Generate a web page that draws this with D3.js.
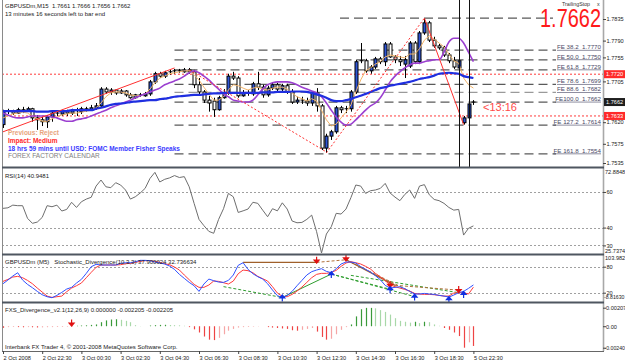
<!DOCTYPE html>
<html>
<head>
<meta charset="utf-8">
<script src="https://cdnjs.cloudflare.com/ajax/libs/d3/7.8.5/d3.min.js"></script>
<style>
body { margin: 0; background: #fff; }
text { font-family: "Liberation Sans", Arial, sans-serif; }
</style>
</head>
<body>
<div id="chart"></div>
<script>
// ---- data ----

// GBPUSDm M15 candles, one per bar (bar 0 = 2 Oct 20:30)
var opens = [
  1.7615,1.7642,1.7644,1.7639,1.7646,1.7644,1.7648,1.7629,1.7625,1.7621,
  1.7631,1.7639,1.7637,1.7642,1.7639,1.7644,1.7642,1.7648,1.7646,1.7650,
  1.7654,1.7689,1.7683,1.7687,1.7681,1.7685,1.7677,1.7671,1.7677,1.7675,
  1.7679,1.7704,1.7721,1.7716,1.7723,1.7725,1.7727,1.7725,1.7729,1.7725,
  1.7698,1.7683,1.7666,1.7664,1.7646,1.7671,1.7681,1.7716,1.7712,1.7675,
  1.7681,1.7679,1.7700,1.7693,1.7677,1.7691,1.7698,1.7689,1.7696,1.7683,
  1.7662,1.7666,1.7664,1.7660,1.7681,1.7654,1.7566,1.7591,1.7600,1.7650,
  1.7646,1.7648,1.7683,1.7746,1.7748,1.7727,1.7735,1.7752,1.7746,1.7783,
  1.7756,1.7750,1.7741,1.7737,1.7785,1.7746,1.7806,1.7827,1.7791,1.7779,
  1.7775,1.7760,1.7748,1.7733,1.7619,1.7629,1.7661];
var highs = [
  1.7646,1.7648,1.7646,1.7650,1.7652,1.7652,1.7650,1.7635,1.7631,1.7635,
  1.7644,1.7644,1.7646,1.7646,1.7648,1.7650,1.7652,1.7652,1.7656,1.7660,
  1.7693,1.7693,1.7691,1.7689,1.7689,1.7687,1.7681,1.7679,1.7681,1.7683,
  1.7708,1.7725,1.7725,1.7727,1.7729,1.7731,1.7731,1.7733,1.7733,1.7729,
  1.7712,1.7687,1.7675,1.7671,1.7675,1.7689,1.7721,1.7725,1.7716,1.7687,
  1.7687,1.7704,1.7725,1.7698,1.7696,1.7702,1.7702,1.7700,1.7700,1.7689,
  1.7673,1.7673,1.7671,1.7683,1.7691,1.7658,1.7596,1.7604,1.7654,1.7654,
  1.7654,1.7687,1.7750,1.7785,1.7752,1.7739,1.7756,1.7756,1.7787,1.7787,
  1.7760,1.7758,1.7758,1.7789,1.7789,1.7810,1.7837,1.7831,1.7798,1.7783,
  1.7779,1.7764,1.7756,1.7752,1.7633,1.7662,1.7666];
var lows = [
  1.7608,1.7637,1.7635,1.7637,1.7639,1.7642,1.7621,1.7604,1.7612,1.7608,
  1.7621,1.7633,1.7633,1.7633,1.7635,1.7633,1.7637,1.7642,1.7644,1.7646,
  1.7652,1.7679,1.7677,1.7677,1.7679,1.7673,1.7669,1.7669,1.7673,1.7673,
  1.7675,1.7700,1.7712,1.7712,1.7719,1.7721,1.7723,1.7723,1.7721,1.7691,
  1.7675,1.7660,1.7642,1.7631,1.7644,1.7669,1.7677,1.7708,1.7671,1.7673,
  1.7675,1.7675,1.7687,1.7671,1.7673,1.7687,1.7683,1.7685,1.7679,1.7658,
  1.7658,1.7658,1.7654,1.7654,1.7642,1.7562,1.7556,1.7583,1.7596,1.7639,
  1.7639,1.7642,1.7679,1.7743,1.7723,1.7721,1.7731,1.7741,1.7737,1.7754,
  1.7743,1.7737,1.7712,1.7733,1.7741,1.7741,1.7802,1.7787,1.7775,1.7771,
  1.7756,1.7743,1.7731,1.7729,1.7615,1.7625,1.7656];
var closes = [
  1.7642,1.7644,1.7639,1.7646,1.7644,1.7648,1.7629,1.7625,1.7621,1.7631,
  1.7639,1.7637,1.7642,1.7639,1.7644,1.7642,1.7648,1.7646,1.7650,1.7654,
  1.7689,1.7683,1.7687,1.7681,1.7685,1.7677,1.7671,1.7677,1.7675,1.7679,
  1.7704,1.7721,1.7716,1.7723,1.7725,1.7727,1.7725,1.7729,1.7725,1.7698,
  1.7683,1.7666,1.7660,1.7646,1.7671,1.7681,1.7716,1.7712,1.7675,1.7681,
  1.7679,1.7700,1.7693,1.7677,1.7691,1.7698,1.7689,1.7696,1.7683,1.7662,
  1.7666,1.7664,1.7660,1.7681,1.7654,1.7566,1.7591,1.7600,1.7650,1.7646,
  1.7648,1.7683,1.7746,1.7748,1.7727,1.7735,1.7752,1.7746,1.7783,1.7756,
  1.7750,1.7746,1.7750,1.7785,1.7746,1.7806,1.7827,1.7791,1.7779,1.7775,
  1.7760,1.7748,1.7735,1.7748,1.7629,1.7658,1.7662];

// moving averages on the price chart
var maSlow = [
  1.7643,1.7643,1.7643,1.7643,1.7643,1.7643,1.7643,1.7642,1.7642,1.7642,
  1.7643,1.7643,1.7643,1.7643,1.7645,1.7645,1.7645,1.7645,1.7645,1.7648,
  1.7650,1.7653,1.7656,1.7658,1.7659,1.7660,1.7662,1.7663,1.7664,1.7665,
  1.7666,1.7666,1.7668,1.7669,1.7671,1.7673,1.7674,1.7675,1.7676,1.7677,
  1.7677,1.7678,1.7679,1.7680,1.7680,1.7681,1.7681,1.7681,1.7681,1.7681,
  1.7681,1.7681,1.7681,1.7682,1.7682,1.7682,1.7683,1.7683,1.7683,1.7684,
  1.7684,1.7684,1.7683,1.7681,1.7678,1.7675,1.7671,1.7666,1.7664,1.7664,
  1.7666,1.7668,1.7672,1.7675,1.7679,1.7683,1.7687,1.7691,1.7693,1.7696,
  1.7698,1.7700,1.7702,1.7704,1.7707,1.7710,1.7712,1.7714,1.7717,1.7721,
  1.7722,1.7723,1.7722,1.7721,1.7716,1.7714,1.7712];
var maMid = [
  1.7639,1.7635,1.7631,1.7629,1.7629,1.7631,1.7633,1.7633,1.7633,1.7633,
  1.7631,1.7629,1.7625,1.7622,1.7622,1.7625,1.7627,1.7629,1.7633,1.7637,
  1.7641,1.7645,1.7650,1.7654,1.7658,1.7662,1.7666,1.7671,1.7675,1.7679,
  1.7683,1.7687,1.7691,1.7698,1.7702,1.7706,1.7710,1.7716,1.7723,1.7727,
  1.7723,1.7716,1.7708,1.7698,1.7689,1.7679,1.7673,1.7666,1.7664,1.7662,
  1.7662,1.7666,1.7677,1.7689,1.7698,1.7702,1.7704,1.7704,1.7704,1.7702,
  1.7698,1.7693,1.7689,1.7685,1.7681,1.7673,1.7660,1.7645,1.7631,1.7620,
  1.7614,1.7616,1.7625,1.7635,1.7645,1.7654,1.7660,1.7671,1.7687,1.7704,
  1.7716,1.7725,1.7733,1.7739,1.7743,1.7743,1.7746,1.7748,1.7750,1.7750,
  1.7766,1.7787,1.7795,1.7795,1.7785,1.7766,1.7746];
var maFast = [
  1.7629,1.7633,1.7637,1.7639,1.7641,1.7639,1.7633,1.7627,1.7622,1.7622,
  1.7627,1.7631,1.7635,1.7637,1.7639,1.7639,1.7641,1.7643,1.7645,1.7650,
  1.7660,1.7673,1.7681,1.7683,1.7683,1.7681,1.7677,1.7675,1.7675,1.7679,
  1.7689,1.7702,1.7712,1.7716,1.7721,1.7723,1.7725,1.7727,1.7727,1.7719,
  1.7708,1.7693,1.7679,1.7666,1.7666,1.7673,1.7687,1.7698,1.7696,1.7691,
  1.7687,1.7691,1.7693,1.7689,1.7687,1.7691,1.7693,1.7693,1.7689,1.7681,
  1.7673,1.7669,1.7664,1.7669,1.7664,1.7645,1.7625,1.7612,1.7616,1.7629,
  1.7641,1.7656,1.7683,1.7708,1.7727,1.7733,1.7741,1.7746,1.7756,1.7760,
  1.7758,1.7756,1.7754,1.7762,1.7762,1.7773,1.7791,1.7800,1.7793,1.7785,
  1.7777,1.7762,1.7748,1.7743,1.7712,1.7698,1.7691];

// Fibonacci expansion levels
var feNames = ["FE 38.2", "FE 50.0", "FE 61.8", "FE 78.6", "FE 88.6", "FE100.0", "FE 127.2", "FE 161.8"];
var feValues = [1.7770, 1.7750, 1.7729, 1.7699, 1.7682, 1.7662, 1.7614, 1.7554];
var feTop = 1.7837;

// red lines: [bar1, price1, bar2, price2]
var trendSolid = [[0, 1.7600, 35, 1.7733], [86, 1.7837, 94, 1.7615]];
var trendDotted = [[38, 1.7729, 66, 1.7558], [66, 1.7556, 86, 1.7837]];
var alertLevels = [1.7720, 1.7633];
var boxPrices = [1.7720, 1.7662, 1.7633];
var sessionBars = [93, 95];

// axis ticks
var priceTicks = [1.7835, 1.7790, 1.7755, 1.7705, 1.7620, 1.7575, 1.7535];
var tickBars = [0, 8, 16, 24, 32, 40, 48, 56, 64, 72, 80, 88, 96];
var tickLabels = ["2 Oct 2008", "2 Oct 22:30", "3 Oct 00:30", "3 Oct 02:30", "3 Oct 04:30", "3 Oct 06:30",
  "3 Oct 08:30", "3 Oct 10:30", "3 Oct 12:30", "3 Oct 14:30", "3 Oct 16:30", "3 Oct 18:30", "5 Oct 22:30"];

// RSI(14)
var rsiValues = [
  50.8,51.1,52.6,52.3,52.3,45.2,42.4,43.1,45.7,52.3,
  51.7,52.6,49.3,50.2,54.2,51.3,54.5,56.0,57.0,63.3,
  66.7,62.9,62.4,65.2,63.9,61.1,56.0,57.3,59.4,62.0,
  67.6,71.0,65.6,67.1,67.9,69.2,68.1,68.6,62.9,53.6,
  44.6,41.1,37.9,36.8,44.6,50.6,59.2,57.3,48.5,49.4,
  50.4,54.2,53.6,49.8,46.1,50.6,49.4,53.9,50.4,43.7,
  42.7,42.9,44.6,47.0,37.7,25.74,36.4,40.5,48.0,47.6,
  50.4,56.8,63.9,63.3,59.2,60.7,61.1,62.0,64.8,59.4,
  57.1,55.1,58.6,61.1,56.4,63.3,64.1,58.4,55.8,55.1,
  53.6,51.3,49.8,50.2,35.8,39.6,40.9481];
var rsiLevels = [60, 40, 30];

// Stochastic divergence
var stochMain = [
  40.7,49.2,58.4,66.1,49.2,39.2,31.5,23.0,15.3,10.7,
  8.4,13.8,20.7,28.4,32.3,42.3,50.8,64.6,80.0,85.4,
  83.9,83.9,83.9,83.9,87.7,89.2,89.2,91.6,94.6,94.6,
  93.9,90.8,88.5,86.2,81.5,73.8,62.3,53.0,43.8,36.1,
  23.0,40.0,51.5,47.7,44.6,43.8,48.4,60.8,83.1,89.2,
  73.8,63.8,56.9,51.5,40.7,26.1,13.0,9.2,13.8,23.0,
  36.1,48.4,60.8,68.5,72.3,75.4,69.2,66.1,75.4,86.2,
  90.8,90.8,88.5,80.0,73.8,67.7,59.2,50.0,36.9,30.7,
  32.3,33.8,29.2,23.0,16.9,16.9,18.4,16.9,16.1,13.8,
  12.2,9.9,14.6,20.0,23.0,30.0,37.9];
var stochSignal = [
  46.1,50.7,56.1,57.7,54.6,48.4,40.7,30.7,21.5,12.2,
  9.2,10.7,12.2,22.3,30.7,36.1,42.3,54.6,66.9,78.5,
  83.9,83.9,83.9,83.9,84.6,86.9,87.7,90.0,92.3,93.9,
  93.9,92.3,90.0,86.9,84.6,79.2,72.3,60.8,50.0,39.2,
  32.3,32.3,37.7,46.9,46.1,43.0,40.0,46.9,63.8,72.3,
  70.8,66.1,57.7,52.3,46.9,33.8,19.2,11.5,10.7,16.1,
  23.8,33.0,43.8,54.6,62.3,64.6,64.6,66.9,71.5,80.8,
  88.5,91.6,89.2,86.2,80.8,74.6,64.6,56.9,47.7,38.4,
  33.8,30.7,27.6,23.8,18.4,16.9,16.1,16.1,15.3,13.8,
  12.2,12.2,19.2,20.0,20.0,16.9,32.7];
var stochLevels = [80, 20];
var stochDownArrows = [[64, 94], [70, 99], [79, 38], [93, 26]];
var stochUpArrows = [[57, 9], [67, 63], [79, 28], [84, 11], [91, 5], [94, 17]];
var divSolidGreen = [[57, 9, 67, 63]];
var divDashedGreen = [[45, 34, 57, 9], [67, 63, 84, 11], [67, 63, 79, 28], [71, 60, 93, 20]];
var divSolidBrown = [[49, 90, 64, 90], [70, 96, 80, 37]];
var divDashedBrown = [[64, 90, 70, 96], [80, 37, 93, 26], [70, 96, 84, 18]];

// FXS_Divergence histogram
var fxsHist = [
  -0.00018,-0.0001,-0.00008,-0.0001,-0.00012,-0.0001,-0.00012,-0.00014,-0.00013,-0.00011,
  -0.0001,-0.00009,-0.00008,-0.00006,-0.00004,0.00005,0.00008,0.0001,0.00015,0.0002,
  0.00045,0.00065,0.00075,0.00078,0.00072,0.0006,0.00045,0.00012,0.00002,0,
  0.00008,0.00012,0.00015,0.00016,0.00014,0.00012,0.0001,0.00005,-0.0001,-0.00035,
  -0.0007,-0.00115,-0.0015,-0.00155,-0.0013,-0.0009,-0.0005,-0.0003,-0.00015,-0.0001,
  -0.00008,-0.00005,-0.00003,0,-0.0001,-0.00015,-0.0002,-0.00025,-0.0003,-0.00045,
  -0.0005,-0.0004,-0.0003,-0.0002,-0.0006,-0.0012,-0.0015,-0.0014,-0.0009,-0.0004,
  -0.0001,0.0002,0.0011,0.0019,0.00205,0.00205,0.002,0.0018,0.0016,0.0013,
  0.0009,0.0006,0.0005,0.0004,0.0005,0.00035,0.0005,0.00045,0.0002,0.00005,
  -0.0002,-0.0004,-0.0007,-0.0011,-0.0024,-0.0018,-0.002205];
var fxsArrow = [14, 0.0003];

// ---- drawing ----

var width = 625;
var height = 363;
var left = 2;
var right = 603;
var axisFont = 5.6;

var svg = d3.select("#chart")
    .append("svg")
    .attr("width", width)
    .attr("height", height);

// panels: [top, bottom]
var mainP = [0, 167];
var rsiP = [168, 254];
var stochP = [255, 302];
var fxsP = [303, 351];

var x = d3.scaleLinear().domain([0, 96]).range([3, 473.4]);
var yMain = d3.scaleLinear().domain([1.7835, 1.7535]).range([19, 163]);
var yRsi = d3.scaleLinear().domain([72.8848, 25.7374]).range([169, 253]);
var yStoch = d3.scaleLinear().domain([80, 20]).range([266.7, 292.7]);
var yFxs = d3.scaleLinear().domain([0.00207, -0.0024]).range([307.7, 347.7]);

var defs = svg.append("defs");
function clip(id, p) {
    defs.append("clipPath").attr("id", id)
        .append("rect").attr("x", left).attr("y", p[0]).attr("width", right - left).attr("height", p[1] - p[0]);
}
clip("cMain", mainP);
clip("cRsi", rsiP);
clip("cStoch", stochP);
clip("cFxs", fxsP);

function label(g, tx, ty, str, size, color, weight) {
    return g.append("text").attr("x", tx).attr("y", ty)
        .attr("font-size", size).attr("fill", color || "#222")
        .attr("font-weight", weight || "normal").text(str);
}

// ---------- main price panel ----------
var main = svg.append("g").attr("clip-path", "url(#cMain)");

// fibonacci dashed levels
main.append("line")
    .attr("x1", 340).attr("x2", 553)
    .attr("y1", yMain(feTop)).attr("y2", yMain(feTop))
    .attr("stroke", "#5a5a5a").attr("stroke-width", 1.3).attr("stroke-dasharray", "9,5");
feValues.forEach(function(v, i) {
    main.append("line")
        .attr("x1", x(35)).attr("x2", 556)
        .attr("y1", yMain(v)).attr("y2", yMain(v))
        .attr("stroke", i == 4 ? "#9a9a9a" : "#5a5a5a")
        .attr("stroke-width", 1.3).attr("stroke-dasharray", "9,5");
    main.append("text")
        .attr("x", 601).attr("y", yMain(v) - 1.3)
        .attr("text-anchor", "end").attr("font-size", 6.2)
        .attr("fill", "#4a4a66").attr("text-decoration", "underline")
        .text(feNames[i] + "\u00a0\u00a0" + v.toFixed(4));
});

// red dotted alert levels
alertLevels.forEach(function(v) {
    main.append("line")
        .attr("x1", left).attr("x2", right)
        .attr("y1", yMain(v)).attr("y2", yMain(v))
        .attr("stroke", "#ff3a3a").attr("stroke-width", 1).attr("stroke-dasharray", "2,2");
});

// candles
var candleG = main.append("g");
opens.forEach(function(o, i) {
    var c = closes[i];
    var cx = Math.round(x(i));
    candleG.append("line")
        .attr("x1", cx + 0.5).attr("x2", cx + 0.5)
        .attr("y1", yMain(highs[i])).attr("y2", yMain(lows[i]))
        .attr("stroke", "#000").attr("stroke-width", 1);
    var top = yMain(Math.max(o, c));
    var bot = yMain(Math.min(o, c));
    if (bot - top < 1.2) {
        candleG.append("line")
            .attr("x1", cx - 1.5).attr("x2", cx + 2.5)
            .attr("y1", top).attr("y2", top)
            .attr("stroke", "#000").attr("stroke-width", 1);
    } else {
        candleG.append("rect")
            .attr("x", cx - 1).attr("y", top)
            .attr("width", 3).attr("height", bot - top)
            .attr("fill", c > o ? "#2f55d4" : "#fff")
            .attr("stroke", "#000").attr("stroke-width", 1);
    }
});

// moving averages
function maLine(scale) {
    return d3.line().x(function(d, i) { return x(i); }).y(function(d) { return scale(d); });
}
main.append("path").datum(maFast).attr("d", maLine(yMain))
    .attr("fill", "none").attr("stroke", "#f2b46a").attr("stroke-width", 1);
main.append("path").datum(maMid).attr("d", maLine(yMain).curve(d3.curveMonotoneX))
    .attr("fill", "none").attr("stroke", "#9b3fd0").attr("stroke-width", 1.6);
main.append("path").datum(maSlow).attr("d", maLine(yMain).curve(d3.curveMonotoneX))
    .attr("fill", "none").attr("stroke", "#1f2fe0").attr("stroke-width", 2.2);

// red trend / fibo anchor lines
trendSolid.forEach(function(t) {
    main.append("line")
        .attr("x1", x(t[0])).attr("y1", yMain(t[1]))
        .attr("x2", x(t[2])).attr("y2", yMain(t[3]))
        .attr("stroke", "#ff3030").attr("stroke-width", 1);
});
trendDotted.forEach(function(t) {
    main.append("line")
        .attr("x1", x(t[0])).attr("y1", yMain(t[1]))
        .attr("x2", x(t[2])).attr("y2", yMain(t[3]))
        .attr("stroke", "#ff3030").attr("stroke-width", 1).attr("stroke-dasharray", "2,2");
});

// session vertical lines
sessionBars.forEach(function(b) {
    var vx = Math.round(x(b)) + 0.5;
    main.append("line")
        .attr("x1", vx).attr("x2", vx)
        .attr("y1", mainP[0]).attr("y2", mainP[1])
        .attr("stroke", "#111").attr("stroke-width", 1);
});

// texts in main panel
label(svg, 5, 8, "GBPUSDm,M15  1.7661 1.7666 1.7656 1.7662", 6, "#222").attr("xml:space", "preserve");
label(svg, 5, 15.5, "13 minutes 16 seconds left to bar end", 6, "#222");
label(svg, 8, 135, "Previous: Reject", 6.5, "#e8a47c", "bold");
label(svg, 8, 143, "Impact: Medium", 6.5, "#ff2a2a", "bold");
label(svg, 8, 150.5, "18 hrs 59 mins until USD: FOMC Member Fisher Speaks", 6.5, "#3a3aff", "bold");
label(svg, 8, 158, "FOREX FACTORY CALENDAR", 6.5, "#808080");
label(svg, 562, 6, "TrailingStop", 5.3, "#333");
label(svg, 597, 6, "x", 5.3, "#333");
label(svg, 483, 110.5, "<13:16", 11, "#ff4a4a");
label(svg, 540, 26.5, "1.7662", 25, "#ff1a1a")
    .attr("textLength", 61).attr("lengthAdjust", "spacingAndGlyphs");

// ---------- RSI panel ----------
var rsiG = svg.append("g").attr("clip-path", "url(#cRsi)");
rsiLevels.forEach(function(v) {
    rsiG.append("line").attr("x1", left).attr("x2", right)
        .attr("y1", Math.round(yRsi(v)) + 0.5).attr("y2", Math.round(yRsi(v)) + 0.5)
        .attr("stroke", "#a0a0a0").attr("stroke-dasharray", "2,2");
});
rsiG.append("path").datum(rsiValues).attr("d", maLine(yRsi))
    .attr("fill", "none").attr("stroke", "#6e6e6e").attr("stroke-width", 1);
label(svg, 5, 178, "RSI(14) 40.9481", 6, "#222");

// ---------- Stochastic panel ----------
var stG = svg.append("g").attr("clip-path", "url(#cStoch)");
stochLevels.forEach(function(v) {
    stG.append("line").attr("x1", left).attr("x2", right)
        .attr("y1", Math.round(yStoch(v)) + 0.5).attr("y2", Math.round(yStoch(v)) + 0.5)
        .attr("stroke", "#a0a0a0").attr("stroke-dasharray", "2,2");
});
function segs(list, color, dash, w) {
    list.forEach(function(t) {
        stG.append("line")
            .attr("x1", x(t[0])).attr("y1", yStoch(t[1]))
            .attr("x2", x(t[2])).attr("y2", yStoch(t[3]))
            .attr("stroke", color).attr("stroke-width", w)
            .attr("stroke-dasharray", dash);
    });
}
segs(divDashedGreen, "#2f9e2f", "3,2", 1);
segs(divSolidGreen, "#2f9e2f", null, 1);
segs(divDashedBrown, "#b0703a", "3,2", 1);
segs(divSolidBrown, "#a0602a", null, 1.3);
stG.append("path").datum(stochSignal).attr("d", maLine(yStoch))
    .attr("fill", "none").attr("stroke", "#ff3a3a").attr("stroke-width", 1);
stG.append("path").datum(stochMain).attr("d", maLine(yStoch))
    .attr("fill", "none").attr("stroke", "#3050ff").attr("stroke-width", 1);
stochDownArrows.forEach(function(a) {
    var ax = x(a[0]), ay = yStoch(a[1]);
    stG.append("path")
        .attr("d", "M" + ax + "," + (ay - 4) + "V" + (ay + 1) + "M" + (ax - 2.5) + "," + (ay - 0.5) + "L" + (ax + 2.5) + "," + (ay - 0.5) + "L" + ax + "," + (ay + 2.5) + "Z")
        .attr("stroke", "#e01010").attr("fill", "#e01010").attr("stroke-width", 1.2);
});
stochUpArrows.forEach(function(a) {
    var ax = x(a[0]), ay = yStoch(a[1]);
    stG.append("path")
        .attr("d", "M" + ax + "," + (ay + 4) + "V" + (ay - 1) + "M" + (ax - 2.5) + "," + (ay + 0.5) + "L" + (ax + 2.5) + "," + (ay + 0.5) + "L" + ax + "," + (ay - 2.5) + "Z")
        .attr("stroke", "#1030e0").attr("fill", "#1030e0").attr("stroke-width", 1.2);
});
label(svg, 5, 264, "GBPUSDm (M5)   Stochastic_Divergence(10,3,3) 37.900024 32.736634", 6, "#222").attr("xml:space", "preserve");

// ---------- FXS divergence panel ----------
var fxG = svg.append("g").attr("clip-path", "url(#cFxs)");
fxsHist.forEach(function(v, i) {
    var prev = i > 0 ? fxsHist[i - 1] : v;
    var col;
    if (v >= 0) col = v >= prev ? "#3a9a3a" : "#a8d8a8";
    else col = v <= prev ? "#ee4444" : "#f6a6a6";
    var hx = Math.round(x(i)) + 0.5;
    fxG.append("line")
        .attr("x1", hx).attr("x2", hx)
        .attr("y1", yFxs(0)).attr("y2", yFxs(v))
        .attr("stroke", col).attr("stroke-width", 1.2);
});
(function() {
    var ax = x(fxsArrow[0]), ay = yFxs(fxsArrow[1]);
    fxG.append("path")
        .attr("d", "M" + ax + "," + (ay - 4) + "V" + (ay + 1) + "M" + (ax - 2.5) + "," + (ay - 0.5) + "L" + (ax + 2.5) + "," + (ay - 0.5) + "L" + ax + "," + (ay + 2.5) + "Z")
        .attr("stroke", "#e01010").attr("fill", "#e01010").attr("stroke-width", 1.2);
})();
label(svg, 5, 312, "FXS_Divergence_v2.1(12,26,9) 0.000000 -0.002205 -0.002205", 6, "#222");
label(svg, 5, 349, "Interbank FX Trader 4, \u00a9 2001-2008 MetaQuotes Software Corp.", 6, "#222");

// ---------- frame and separators ----------
svg.append("line").attr("x1", left + 0.5).attr("x2", left + 0.5).attr("y1", 0).attr("y2", 351)
    .attr("stroke", "#8a8a8a");
svg.append("line").attr("x1", right + 0.5).attr("x2", right + 0.5).attr("y1", 0).attr("y2", 351)
    .attr("stroke", "#a8a8a8").attr("stroke-width", 1.6);
svg.append("line").attr("x1", left).attr("x2", right + 1).attr("y1", 351.5).attr("y2", 351.5)
    .attr("stroke", "#666");
[mainP[1], rsiP[1], stochP[1]].forEach(function(sy) {
    svg.append("line").attr("x1", left).attr("x2", right + 1)
        .attr("y1", sy + 0.5).attr("y2", sy + 0.5)
        .attr("stroke", "#4e5660").attr("stroke-width", 2);
});

// ---------- axes ----------
function styleAxis(g) {
    g.select(".domain").remove();
    g.selectAll("text").attr("font-size", axisFont).attr("fill", "#222")
        .style("font-family", "'Liberation Sans', Arial, sans-serif");
    g.selectAll("line").attr("stroke", "#444");
}

var priceAxis = svg.append("g").attr("transform", "translate(" + right + ",0)")
    .call(d3.axisRight(yMain).tickValues(priceTicks).tickFormat(d3.format(".4f")).tickSize(3))
    .call(styleAxis);
priceAxis.selectAll("text").attr("x", 3.5);

// price boxes on the axis
var boxColors = ["#ff2a2a", "#1e1e1e", "#ff2a2a"];
boxPrices.forEach(function(v, i) {
    var by = yMain(v);
    svg.append("rect").attr("x", right + 1).attr("y", by - 4)
        .attr("width", 21).attr("height", 8).attr("fill", boxColors[i]);
    svg.append("text").attr("x", right + 3).attr("y", by + 2)
        .attr("font-size", axisFont).attr("fill", "#fff").text(v.toFixed(4));
});

var rsiAxis = svg.append("g").attr("transform", "translate(" + right + ",0)")
    .call(d3.axisRight(yRsi).tickValues(rsiLevels).tickFormat(d3.format("d")).tickSize(3))
    .call(styleAxis);
rsiAxis.selectAll("text").attr("x", 3.5);
label(svg, right + 2, yRsi(72.8848) + 4.5, "72.8848", axisFont, "#222");
label(svg, right + 2, yRsi(25.7374) - 0.5, "25.7374", axisFont, "#222");

var stAxis = svg.append("g").attr("transform", "translate(" + right + ",0)")
    .call(d3.axisRight(yStoch).tickValues(stochLevels).tickFormat(d3.format("d")).tickSize(3))
    .call(styleAxis);
stAxis.selectAll("text").attr("x", 3.5);
label(svg, right + 2, yStoch(103.982) + 4, "103.982", axisFont, "#222");
label(svg, right + 1, stochP[1] - 3, "-8.81630", 5.2, "#222");

var fxAxis = svg.append("g").attr("transform", "translate(" + right + ",0)")
    .call(d3.axisRight(yFxs).tickValues([0.00207, 0, -0.0024])
        .tickFormat(function(d) { return d == 0 ? "0.00" : d.toFixed(5); }).tickSize(3))
    .call(styleAxis);
fxAxis.selectAll("text").attr("x", 3);
fxAxis.selectAll("text").filter(function(d) { return d < 0; }).attr("x", 1.5).attr("font-size", 5.2);

var timeAxis = svg.append("g").attr("transform", "translate(0,351)")
    .call(d3.axisBottom(x).tickValues(tickBars)
        .tickFormat(function(d, i) { return tickLabels[i]; }).tickSize(3))
    .call(styleAxis);
timeAxis.selectAll("text").attr("text-anchor", "start").attr("x", 0).attr("y", 5);
</script>
</body>
</html>
